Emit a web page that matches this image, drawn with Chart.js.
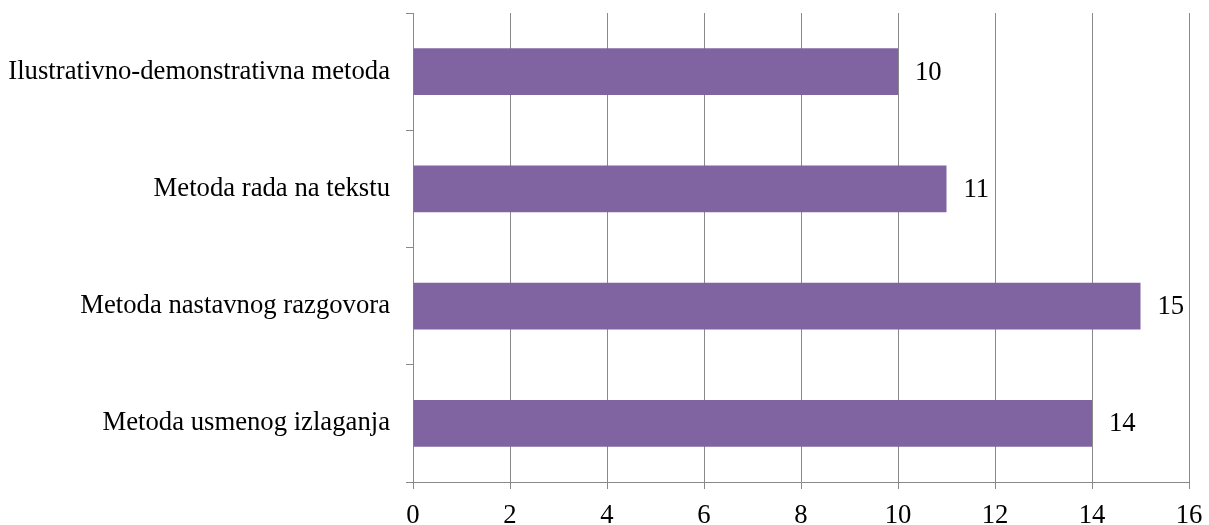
<!DOCTYPE html>
<html>
<head>
<meta charset="utf-8">
<script src="https://cdn.jsdelivr.net/npm/chart.js@4/dist/chart.umd.min.js"></script>
<style>
html,body{margin:0;padding:0;background:#fff;}
#wrap{width:1209px;height:525px;position:relative;}
</style>
</head>
<body>
<div id="wrap"><canvas id="c" width="1209" height="525"></canvas></div>
<script>
const categories = ["Ilustrativno-demonstrativna metoda", "Metoda rada na tekstu", "Metoda nastavnog razgovora", "Metoda usmenog izlaganja"];
const values = [10, 11, 15, 14];
const xTicks = [0, 2, 4, 6, 8, 10, 12, 14, 16];

const FONT = "'Liberation Serif', 'Times New Roman', serif";
const GRID = '#898989';
const FS = 26.7;

const valueLabels = {
  id: 'valueLabels',
  afterDatasetsDraw(chart) {
    const ctx = chart.ctx;
    const meta = chart.getDatasetMeta(0);
    ctx.save();
    ctx.font = FS + 'px ' + FONT;
    ctx.fillStyle = '#000';
    ctx.textAlign = 'left';
    ctx.textBaseline = 'middle';
    meta.data.forEach((bar, i) => {
      ctx.fillText(String(values[i]), bar.x + 17, bar.y + 1);
    });
    ctx.restore();
  }
};

new Chart(document.getElementById('c'), {
  type: 'bar',
  data: {
    labels: categories,
    datasets: [{
      data: values,
      backgroundColor: '#8064A2',
      borderWidth: 0,
      barPercentage: 0.4,
      categoryPercentage: 1.0
    }]
  },
  options: {
    indexAxis: 'y',
    responsive: false,
    animation: false,
    devicePixelRatio: 1,
    layout: { padding: { top: 13, right: 20, left: 0, bottom: 0 } },
    plugins: { legend: { display: false }, tooltip: { enabled: false } },
    scales: {
      x: {
        min: 0, max: 16,
        afterBuildTicks(axis) { axis.ticks = xTicks.map(v => ({ value: v })); },
        afterFit(axis) { axis.height = 43; axis.paddingLeft = 0; axis.paddingRight = 0; },
        grid: { color: GRID, lineWidth: 1, drawTicks: true, tickLength: 7 },
        border: { display: true, color: GRID, width: 1 },
        ticks: { color: '#000', font: { family: FONT, size: FS }, padding: 11, maxRotation: 0 }
      },
      y: {
        offset: true,
        afterFit(axis) { axis.width = 413; axis.paddingTop = 0; axis.paddingBottom = 0; },
        grid: { offset: true, drawOnChartArea: false, drawTicks: true, tickLength: 7, color: GRID, lineWidth: 1 },
        border: { display: true, color: GRID, width: 1 },
        ticks: { color: '#000', font: { family: FONT, size: FS }, padding: 16 }
      }
    }
  },
  plugins: [valueLabels]
});
</script>
</body>
</html>
